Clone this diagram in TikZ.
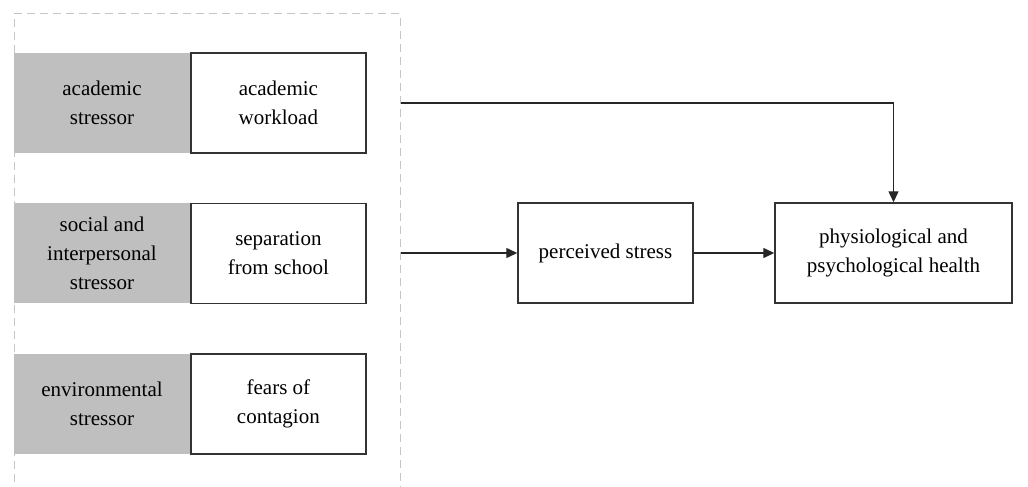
\documentclass[tikz,border=0pt]{standalone}
\usepackage{fontspec}
\setmainfont{Liberation Serif}
\usepackage{tikz}
\usetikzlibrary{arrows.meta, positioning}

\begin{document}
\begin{tikzpicture}[x=1pt, y=-1pt, node distance=50pt and 0pt,
        font=\fontsize{21}{29}\selectfont,
        catbox/.style={fill=gray!50, minimum width=176pt, minimum height=100pt,
                       inner sep=0pt, align=center},
        itembox/.style={draw=black!80, line width=1.4pt, fill=white,
                        minimum width=175pt, minimum height=100pt,
                        inner sep=0pt, align=center},
        arr/.style={-{Triangle[length=11pt, width=10pt]}, draw=black!85, line width=1.3pt}]
        \useasboundingbox (0,0) rectangle (1028,487);
        \clip (0,0) rectangle (1028,487);

        % stressor group
        \node[draw=gray!45, line width=1pt, dash pattern=on 8pt off 5pt,
              minimum width=386pt, minimum height=484pt, inner sep=0pt]
              (grp) at (207,256) {};

        \node[catbox] (cat1) at (102,103) {academic\\stressor};
        \node[itembox, right=of cat1] (item1) {academic\\workload};
        \node[catbox, below=of cat1] (cat2) {social and\\interpersonal\\stressor};
        \node[itembox, right=of cat2] (item2) {separation\\from school};
        \node[catbox, below=of cat2] (cat3) {environmental\\stressor};
        \node[itembox, right=of cat3] (item3) {fears of\\contagion};

        \node[itembox] (perceived) at (605.5,253) {perceived stress};
        \node[itembox, minimum width=237pt] (health) at (893.5,253)
              {physiological and\\psychological health};

        \draw[arr] (grp.east |- item1) -| (health);
        \draw[arr] (grp.east |- perceived) -- (perceived);
        \draw[arr] (perceived) -- (health);
    \end{tikzpicture}
\end{document}
